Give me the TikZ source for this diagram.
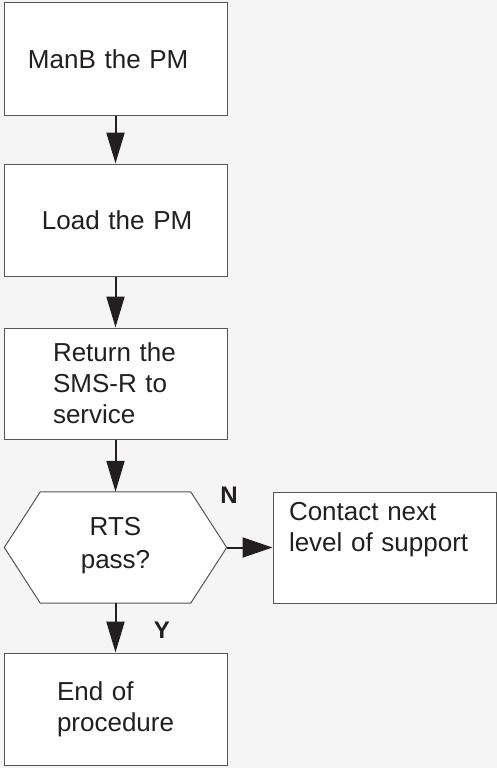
\documentclass[tikz,border=0pt]{standalone}
\usepackage{fontspec}
\setmainfont{Liberation Sans}
\usetikzlibrary{arrows.meta}
\pgfdeclarelayer{back}
\pgfdeclarelayer{background}
\pgfsetlayers{back,background,main}
\definecolor{bg}{HTML}{F5F5F5}
\definecolor{ink}{HTML}{231F20}
\definecolor{edge}{HTML}{555555}
\begin{document}
\begin{tikzpicture}[x=1pt,y=-1pt,
  box/.style={draw=edge, line width=1pt, fill=white, minimum width=223pt,
    minimum height=112pt, inner sep=0pt, text width=223pt, align=left,
    font=\fontsize{26}{31}\selectfont, text=ink},
  flow/.style={line width=2pt, draw=ink, -{Triangle[length=31pt,width=18pt]}},
  lab/.style={font=\bfseries\fontsize{24}{28}\selectfont, text=ink, inner sep=0pt}]
\begin{pgfonlayer}{back}
\fill[bg] (0,0) rectangle (497,768);
\end{pgfonlayer}
\useasboundingbox (0,0) rectangle (497,768);

\node[box] (b1) at (115.5,59) {\hspace*{24pt}ManB the PM};
\node[box] (b2) at (115.5,220) {\hspace*{38pt}Load the PM};
\node[box, minimum height=111pt] (b3) at (115.5,383.5)
  {\hspace*{49pt}Return the\\\hspace*{49pt}SMS-R to\\\hspace*{49pt}service};
\node[minimum width=222pt, minimum height=111pt, inner sep=0pt, align=center,
  font=\fontsize{26}{33}\selectfont, text=ink] (dec) at (115.5,546) {RTS\\pass?};
\begin{pgfonlayer}{background}
\draw[edge, line width=1pt, fill=white] ([yshift=-1.5pt]dec.west) -- ([xshift=36pt,yshift=-1.5pt]dec.north west)
  -- ([xshift=-36pt,yshift=-1.5pt]dec.north east) -- ([yshift=-1.5pt]dec.east) -- ([xshift=-36pt,yshift=-1.5pt]dec.south east)
  -- ([xshift=36pt,yshift=-1.5pt]dec.south west) -- cycle;
\end{pgfonlayer}
\node[box, minimum height=111pt] (c) at (384.5,547.5)
  {\hspace*{16pt}Contact next\\\hspace*{16pt}level of support\\[11pt]\mbox{}};
\node[box] (b5) at (115.5,709)
  {\hspace*{53pt}End of\\\hspace*{53pt}procedure};

\draw[flow] (b1) -- (b2);
\draw[flow] (b2) -- (b3);
\draw[flow] (b3) -- ([yshift=-1.5pt]dec.north);
\draw[flow, -{Triangle[length=30pt,width=20pt]}] ([yshift=-1.5pt]dec.east) -- (c.west);
\draw[flow] ([yshift=-1.5pt]dec.south) -- (b5);

\node[lab] (n) at (229,495) {N};
\node[lab] (y) at (162,630) {Y};
\end{tikzpicture}
\end{document}
